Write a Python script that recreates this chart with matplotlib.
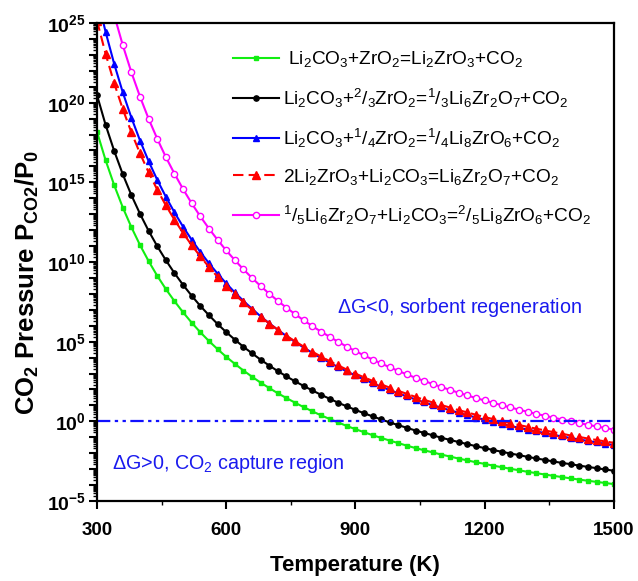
import numpy as np
import matplotlib
matplotlib.use('Agg')
import matplotlib.pyplot as plt
from matplotlib.ticker import FixedLocator, FuncFormatter, LogLocator, MultipleLocator, NullFormatter

plt.rcParams['font.family'] = 'Liberation Sans'
plt.rcParams['mathtext.fontset'] = 'custom'
plt.rcParams['mathtext.rm'] = 'Liberation Sans'
plt.rcParams['mathtext.bf'] = 'Liberation Sans:bold'
plt.rcParams['mathtext.it'] = 'Liberation Sans:italic'
plt.rcParams['mathtext.default'] = 'regular'

# temperature grid (K), one point every 20 K as in the figure
temps = list(range(300, 1501, 20))

# log10(P_CO2/P0)
log_p_li2zro3 = [18.18, 16.39, 14.82, 13.42, 12.18, 11.06, 10.05, 9.13, 8.30, 7.54,
                 6.84, 6.19, 5.59, 5.04, 4.53, 4.05, 3.61, 3.19, 2.80, 2.43,
                 2.09, 1.76, 1.46, 1.17, 0.89, 0.63, 0.38, 0.15, -0.07, -0.29,
                 -0.49, -0.68, -0.87, -1.04, -1.21, -1.37, -1.53, -1.68, -1.82, -1.95,
                 -2.09, -2.21, -2.34, -2.45, -2.57, -2.67, -2.78, -2.88, -2.98, -3.07,
                 -3.17, -3.25, -3.34, -3.42, -3.50, -3.58, -3.66, -3.73, -3.80, -3.87, -3.94]
log_p_li6zr2o7 = [20.48, 18.61, 16.97, 15.50, 14.19, 13.02, 11.95, 10.99, 10.11, 9.30,
                  8.56, 7.88, 7.24, 6.66, 6.11, 5.60, 5.13, 4.68, 4.27, 3.87,
                  3.50, 3.15, 2.82, 2.51, 2.22, 1.94, 1.67, 1.42, 1.17, 0.94,
                  0.72, 0.51, 0.31, 0.12, -0.07, -0.24, -0.41, -0.58, -0.73, -0.88,
                  -1.03, -1.17, -1.30, -1.43, -1.56, -1.68, -1.80, -1.91, -2.02, -2.12,
                  -2.23, -2.33, -2.42, -2.52, -2.61, -2.69, -2.78, -2.86, -2.94, -3.02, -3.10]
log_p_li8zro6 = [26.73, 24.44, 22.43, 20.64, 19.05, 17.62, 16.32, 15.15, 14.09, 13.11,
                 12.21, 11.39, 10.63, 9.92, 9.27, 8.66, 8.09, 7.56, 7.06, 6.59,
                 6.15, 5.74, 5.35, 4.98, 4.63, 4.30, 3.98, 3.69, 3.40, 3.13,
                 2.88, 2.63, 2.40, 2.17, 1.96, 1.75, 1.56, 1.37, 1.19, 1.01,
                 0.85, 0.69, 0.53, 0.38, 0.24, 0.10, -0.03, -0.16, -0.29, -0.41,
                 -0.52, -0.63, -0.74, -0.85, -0.95, -1.05, -1.14, -1.23, -1.32, -1.41, -1.49]
log_p_zro3_to_zr2o7 = [25.15, 23.07, 21.22, 19.59, 18.13, 16.81, 15.62, 14.54, 13.55, 12.65,
                       11.82, 11.05, 10.35, 9.69, 9.07, 8.50, 7.97, 7.47, 7.00, 6.56,
                       6.14, 5.75, 5.37, 5.02, 4.69, 4.37, 4.07, 3.78, 3.51, 3.25,
                       3.00, 2.76, 2.54, 2.32, 2.11, 1.91, 1.72, 1.53, 1.35, 1.18,
                       1.02, 0.86, 0.70, 0.56, 0.41, 0.27, 0.14, 0.01, -0.11, -0.23,
                       -0.35, -0.46, -0.57, -0.68, -0.78, -0.89, -0.98, -1.08, -1.17, -1.26, -1.35]
log_p_zr2o7_to_zro6 = [30.08, 27.65, 25.50, 23.60, 21.90, 20.37, 18.98, 17.73, 16.58, 15.54,
                       14.57, 13.68, 12.86, 12.10, 11.39, 10.73, 10.12, 9.54, 9.00, 8.49,
                       8.01, 7.56, 7.13, 6.73, 6.34, 5.98, 5.63, 5.31, 4.99, 4.69,
                       4.41, 4.14, 3.88, 3.63, 3.39, 3.16, 2.94, 2.73, 2.53, 2.34,
                       2.15, 1.97, 1.79, 1.63, 1.46, 1.31, 1.16, 1.01, 0.87, 0.73,
                       0.60, 0.47, 0.35, 0.23, 0.11, 0.00, -0.11, -0.22, -0.32, -0.42, -0.52]

labels = [' Li$_2$CO$_3$+ZrO$_2$=Li$_2$ZrO$_3$+CO$_2$',
          'Li$_2$CO$_3$+$^2$/$_3$ZrO$_2$=$^1$/$_3$Li$_6$Zr$_2$O$_7$+CO$_2$',
          'Li$_2$CO$_3$+$^1$/$_4$ZrO$_2$=$^1$/$_4$Li$_8$ZrO$_6$+CO$_2$',
          '2Li$_2$ZrO$_3$+Li$_2$CO$_3$=Li$_6$Zr$_2$O$_7$+CO$_2$',
          '$^1$/$_5$Li$_6$Zr$_2$O$_7$+Li$_2$CO$_3$=$^2$/$_5$Li$_8$ZrO$_6$+CO$_2$']

fig = plt.figure(figsize=(6.38, 5.81), dpi=100)
ax = fig.add_axes([0.152, 0.1377, 0.810, 0.8227])

T = np.array(temps)
ax.plot(T, 10.0 ** np.array(log_p_li2zro3), color='#11ee11', lw=1.5, marker='s', ms=3.5, label=labels[0])
ax.plot(T, 10.0 ** np.array(log_p_li6zr2o7), color='black', lw=1.5, marker='o', ms=3.8, label=labels[1])
ax.plot(T, 10.0 ** np.array(log_p_li8zro6), color='#0000ff', lw=1.5, marker='^', ms=4, label=labels[2])
ax.plot(T, 10.0 ** np.array(log_p_zro3_to_zr2o7), color='#ff0000', lw=1.5, ls=(0, (5, 2.5)),
        marker='^', ms=5.5, label=labels[3])
ax.plot(T, 10.0 ** np.array(log_p_zr2o7_to_zro6), color='#ff00ff', lw=1.5, marker='o', ms=4.5,
        mfc='white', mew=1, label=labels[4])

ax.axhline(1.0, color='#1010ff', lw=1.6, dashes=(6, 2, 1.5, 2, 1.5, 2))

ax.set_yscale('log')
ax.set_xlim(300, 1500)
ax.set_ylim(1e-5, 1e25)

ax.xaxis.set_major_locator(FixedLocator([300, 600, 900, 1200, 1500]))
ax.xaxis.set_minor_locator(MultipleLocator(150))
ax.yaxis.set_major_locator(FixedLocator([10.0 ** k for k in range(-5, 26)]))
ax.yaxis.set_major_formatter(FuncFormatter(
    lambda v, p: r'$\mathbf{10^{%d}}$' % round(np.log10(v)) if round(np.log10(v)) % 5 == 0 else ''))
ax.yaxis.set_minor_locator(LogLocator(base=10, subs=np.arange(2, 10), numticks=200))
ax.yaxis.set_minor_formatter(NullFormatter())

ax.tick_params(which='major', direction='out', length=6, width=1.5)
ax.tick_params(which='minor', direction='out', length=3, width=1)
ax.tick_params(axis='x', which='major', labelsize=13.5, pad=9)
ax.tick_params(axis='y', which='major', labelsize=14, pad=2)
ax.tick_params(top=False, right=False, which='both')
for lab in ax.get_xticklabels():
    lab.set_fontweight('bold')
for sp in ax.spines.values():
    sp.set_linewidth(1.6)

ax.set_xlabel('Temperature (K)', fontsize=16, fontweight='bold', labelpad=12)
ax.set_ylabel(r'CO$_\mathbf{2}$ Pressure P$_\mathbf{CO2}$/P$_\mathbf{0}$', fontsize=18.5, fontweight='bold')
ax.yaxis.set_label_coords(-0.108, 0.458)

ax.text(857, 10 ** 7.15, r'$\Delta$G<0, sorbent regeneration', color='#1a1aee', fontsize=14.2, va='center')
ax.text(335, 10 ** -2.65, r'$\Delta$G>0, CO$_2$ capture region', color='#1a1aee', fontsize=14.2, va='center')

ax.legend(loc='upper left', bbox_to_anchor=(0.263, 0.945), frameon=False, fontsize=13.7,
          handlelength=2.4, handletextpad=0.25, labelspacing=0.9, borderpad=0, borderaxespad=0)

fig.savefig('out.png', dpi=100)
